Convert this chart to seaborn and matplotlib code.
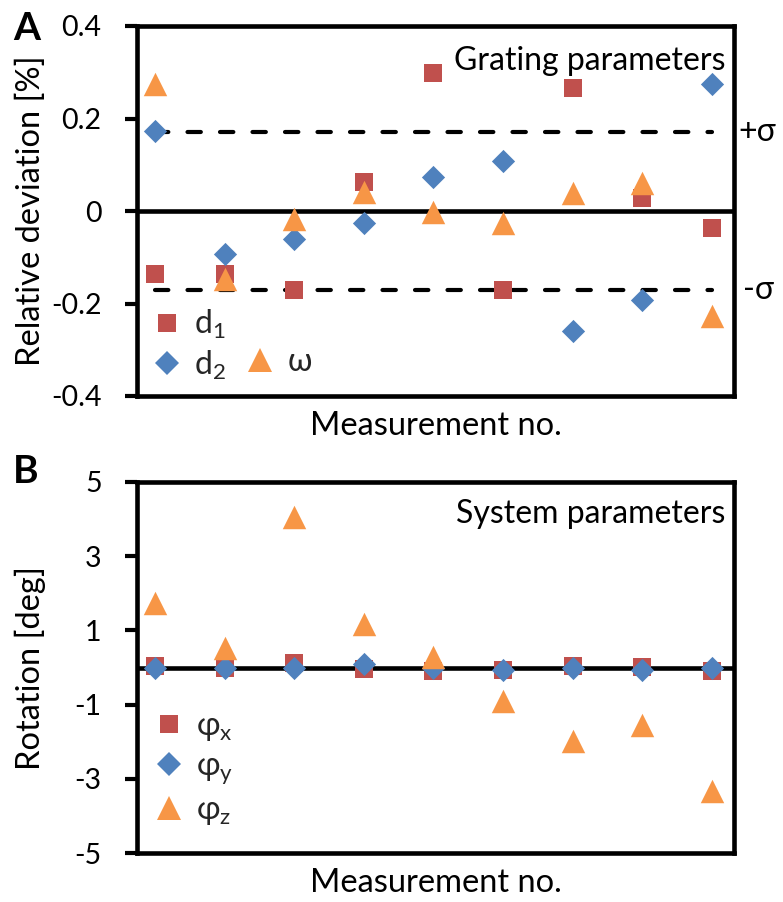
import numpy as np
import pandas as pd
import matplotlib
matplotlib.use("Agg")
import matplotlib.pyplot as plt
import seaborn as sns
from matplotlib.lines import Line2D

# ---------------- data ----------------
measurement = [1, 2, 3, 4, 5, 6, 7, 8, 9]

# Panel A: grating parameters, relative deviation [%]
d1 = [-0.136, -0.136, -0.170, 0.063, 0.299, -0.170, 0.266, 0.029, -0.037]
d2 = [0.174, -0.093, -0.060, -0.027, 0.074, 0.108, -0.259, -0.192, 0.275]
omega = [0.275, -0.146, -0.017, 0.041, -0.003, -0.027, 0.038, 0.060, -0.228]
sigma = 0.17

# Panel B: system parameters, rotation [deg]
phi_x = [0.03, 0.00, 0.12, -0.04, -0.09, -0.08, 0.03, 0.02, -0.09]
phi_y = [0.00, 0.00, 0.00, 0.10, 0.00, -0.06, 0.00, -0.06, 0.00]
phi_z = [1.74, 0.52, 4.05, 1.18, 0.27, -0.90, -1.97, -1.55, -3.33]

yticks_a = [-0.4, -0.2, 0, 0.2, 0.4]
yticklabels_a = ["-0.4", "-0.2", "0", "0.2", "0.4"]
yticks_b = [-5, -3, -1, 1, 3, 5]
yticklabels_b = ["-5", "-3", "-1", "1", "3", "5"]

RED = "#C0504D"
BLUE = "#4F81BD"
ORANGE = "#F79646"

sns.set_theme(style="white")
plt.rcParams["font.family"] = ["Lato", "DejaVu Sans"]
plt.rcParams["mathtext.fontset"] = "custom"
plt.rcParams["mathtext.rm"] = "Lato"

W, H = 783, 902
fig = plt.figure(figsize=(W / 100, H / 100), dpi=100)


def px_axes(left, top, right, bottom):
    return fig.add_axes([left / W, 1 - bottom / H, (right - left) / W, (bottom - top) / H])


axA = px_axes(137, 26, 734, 396)
axB = px_axes(137, 482, 734, 853)

S_SQ = 155
S_DI = 140
S_TR = 285

LABEL_FS = 23.5
TICK_FS = 20.5
NOTE_FS = 23
LEG_FS = 23


def style_axis(ax, yticks, ylabels, ylim):
    ax.set_xlim(0.74, 9.32)
    ax.set_ylim(*ylim)
    ax.set_xticks([])
    ax.set_yticks(yticks)
    ax.set_yticklabels(ylabels)
    for s in ax.spines.values():
        s.set_visible(True)
        s.set_color("black")
        s.set_linewidth(3.3)
    ax.tick_params(axis="y", which="both", left=True, direction="out",
                   length=8.5, width=3.0, color="black", pad=17,
                   labelsize=TICK_FS, labelcolor="black")
    ax.grid(False)
    ax.set_facecolor("white")


# ---------------- Panel A ----------------
dfA = pd.DataFrame({"m": measurement, "d1": d1, "d2": d2, "omega": omega})
axA.axhline(0, color="black", lw=3.3, zorder=2)
axA.hlines([sigma, -sigma], measurement[0], measurement[-1], colors="black",
           linestyles=(0, (3.2, 4.6)), lw=3.0, zorder=2, capstyle="round")
sns.scatterplot(data=dfA, x="m", y="d1", ax=axA, marker="s", s=S_SQ, color=RED,
                linewidth=0, zorder=3)
sns.scatterplot(data=dfA, x="m", y="d2", ax=axA, marker="D", s=S_DI, color=BLUE,
                linewidth=0, zorder=4)
sns.scatterplot(data=dfA, x="m", y="omega", ax=axA, marker="^", s=S_TR, color=ORANGE,
                linewidth=0, zorder=5)
style_axis(axA, yticks_a, yticklabels_a, (-0.4, 0.4))
axA.set_xlabel("Measurement no.", fontsize=LABEL_FS, labelpad=11, color="black")
axA.set_ylabel("Relative deviation [%]", fontsize=LABEL_FS, color="black")
axA.yaxis.set_label_coords(-0.153, 0.5)
axA.text(0.985, 0.905, "Grating parameters", transform=axA.transAxes,
         ha="right", va="center", fontsize=NOTE_FS, color="black")
axA.text(1.008, sigma, "+σ", transform=axA.get_yaxis_transform(), ha="left",
         va="center", fontsize=NOTE_FS, color="black", clip_on=False)
axA.text(1.015, -sigma, "-σ", transform=axA.get_yaxis_transform(), ha="left",
         va="center", fontsize=NOTE_FS, color="black", clip_on=False)

h_d1 = Line2D([], [], ls="none", marker="s", ms=np.sqrt(S_SQ), color=RED, mew=0)
h_d2 = Line2D([], [], ls="none", marker="D", ms=np.sqrt(S_DI), color=BLUE, mew=0)
h_om = Line2D([], [], ls="none", marker="^", ms=np.sqrt(S_TR), color=ORANGE, mew=0)
h_blank = Line2D([], [], ls="none", marker=None)
legA = axA.legend([h_d1, h_d2, h_blank, h_om],
                  [r"$\mathregular{d_1}$", r"$\mathregular{d_2}$", "", "ω"],
                  ncol=2, loc="lower left", bbox_to_anchor=(0.0, 0.0),
                  frameon=False, fontsize=LEG_FS, handlelength=1.0,
                  handletextpad=0.35, labelspacing=0.22, columnspacing=0.55,
                  borderpad=0.25, borderaxespad=0.2)

# ---------------- Panel B ----------------
dfB = pd.DataFrame({"m": measurement, "phi_x": phi_x, "phi_y": phi_y, "phi_z": phi_z})
axB.axhline(0, color="black", lw=3.3, zorder=2)
sns.scatterplot(data=dfB, x="m", y="phi_x", ax=axB, marker="s", s=S_SQ, color=RED,
                linewidth=0, zorder=3)
sns.scatterplot(data=dfB, x="m", y="phi_y", ax=axB, marker="D", s=S_DI, color=BLUE,
                linewidth=0, zorder=4)
sns.scatterplot(data=dfB, x="m", y="phi_z", ax=axB, marker="^", s=S_TR, color=ORANGE,
                linewidth=0, zorder=5)
style_axis(axB, yticks_b, yticklabels_b, (-5, 5))
axB.set_xlabel("Measurement no.", fontsize=LABEL_FS, labelpad=11, color="black")
axB.set_ylabel("Rotation [deg]", fontsize=LABEL_FS, color="black")
axB.yaxis.set_label_coords(-0.153, 0.5)
axB.text(0.985, 0.915, "System parameters", transform=axB.transAxes,
         ha="right", va="center", fontsize=NOTE_FS, color="black")
legB = axB.legend([h_d1, h_d2, h_om],
                  [r"$\mathregular{φ_x}$", r"$\mathregular{φ_y}$", r"$\mathregular{φ_z}$"],
                  loc="lower left", bbox_to_anchor=(0.003, 0.032),
                  frameon=False, fontsize=LEG_FS, handlelength=1.0,
                  handletextpad=0.35, labelspacing=0.26,
                  borderpad=0.25, borderaxespad=0.2)

fig.text(13 / W, 1 - 11 / H, "A", fontsize=28, fontweight="bold", ha="left", va="top",
         color="black")
fig.text(13 / W, 1 - 454 / H, "B", fontsize=28, fontweight="bold", ha="left", va="top",
         color="black")

fig.savefig("out.png", dpi=100, facecolor="white")
